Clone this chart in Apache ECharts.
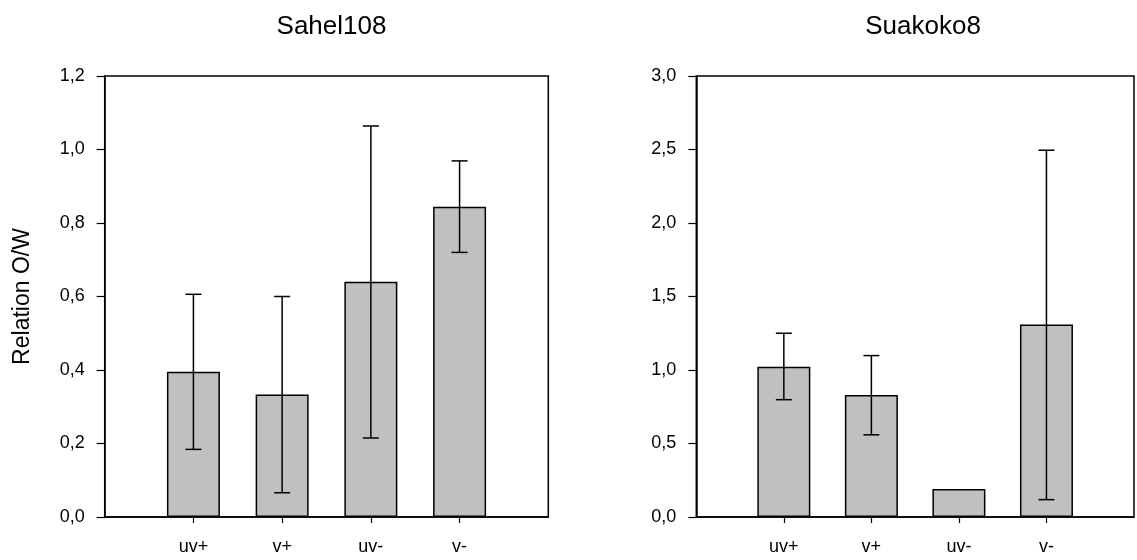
<!DOCTYPE html>
<html>
<head>
<meta charset="utf-8">
<script src="https://cdn.jsdelivr.net/npm/echarts@6/dist/echarts.min.js"></script>
<style>
html,body{margin:0;padding:0;background:#fff;}
#chart{width:1137px;height:560px;}
</style>
</head>
<body>
<div id="chart"></div>
<script>
// ---- data ----
const categories = ['uv+', 'v+', 'uv-', 'v-'];
const titles = ['Sahel108', 'Suakoko8'];
const yAxisName = 'Relation O/W';

const sahelMeans = [0.395, 0.333, 0.640, 0.844];
const sahelLow   = [0.184, 0.066, 0.215, 0.720];
const sahelHigh  = [0.606, 0.600, 1.064, 0.969];

const suakokoMeans = [1.022, 0.830, 0.191, 1.309];
const suakokoLow   = [0.798, 0.559, null, 0.118];
const suakokoHigh  = [1.250, 1.098, null, 2.495];

const sahelTicks = { min: 0, max: 1.2, interval: 0.2 };
const suakokoTicks = { min: 0, max: 3.0, interval: 0.5 };

// ---- build ----
const FONT = 'Liberation Sans, Arial, sans-serif';
const axisCats = [''].concat(categories, ['']);
const fmt = v => v.toFixed(1).replace('.', ',');

const grids = [
  { left: 104.7, top: 76, width: 443.6, height: 441 },
  { left: 696.3, top: 76, width: 446, height: 441 }
];

function xAxisFor(i) {
  return {
    type: 'category', gridIndex: i, data: axisCats, boundaryGap: false,
    axisLine: { lineStyle: { color: '#000', width: 1.5 } },
    axisTick: { show: true, length: 6, lineStyle: { color: '#000', width: 1.2 },
      interval: (idx) => idx > 0 && idx < axisCats.length - 1 },
    axisLabel: { color: '#000', fontSize: 18, fontFamily: FONT, margin: 21,
      interval: 0 },
    splitLine: { show: false }
  };
}
function yAxisFor(i, t) {
  const ax = {
    type: 'value', gridIndex: i, min: t.min, max: t.max, interval: t.interval,
    axisLine: { show: true, lineStyle: { color: '#000', width: 1.5 } },
    axisTick: { show: true, length: 8, lineStyle: { color: '#000', width: 1.2 } },
    axisLabel: { color: '#000', fontSize: 18, fontFamily: FONT, margin: 20, formatter: fmt },
    splitLine: { show: false }
  };
  if (i === 0) {
    ax.name = yAxisName;
    ax.nameLocation = 'middle';
    ax.nameGap = 71;
    ax.nameTextStyle = { color: '#000', fontSize: 23, fontFamily: FONT };
  }
  return ax;
}

function barSeries(i, means) {
  return {
    type: 'bar', xAxisIndex: i, yAxisIndex: i,
    data: [null].concat(means, [null]),
    barWidth: 53,
    itemStyle: { color: '#c0c0c0', borderColor: '#000', borderWidth: 1.5 },
    silent: true, z: 2
  };
}
function errSeries(i, low, high) {
  const d = [];
  low.forEach((l, k) => { if (l !== null && high[k] !== null) d.push([k + 1, l, high[k]]); });
  return {
    type: 'custom', xAxisIndex: i, yAxisIndex: i, z: 5, silent: true,
    data: d,
    renderItem: function (params, api) {
      const x = api.value(0);
      const lo = api.coord([x, api.value(1)]);
      const hi = api.coord([x, api.value(2)]);
      const hw = 8;
      const st = { stroke: '#000', lineWidth: 1.5 };
      return { type: 'group', children: [
        { type: 'line', shape: { x1: lo[0], y1: lo[1], x2: hi[0], y2: hi[1] }, style: st },
        { type: 'line', shape: { x1: hi[0] - hw, y1: hi[1], x2: hi[0] + hw, y2: hi[1] }, style: st },
        { type: 'line', shape: { x1: lo[0] - hw, y1: lo[1], x2: lo[0] + hw, y2: lo[1] }, style: st }
      ]};
    }
  };
}

const chart = echarts.init(document.getElementById('chart'), null, { renderer: 'canvas' });
chart.setOption({
  animation: false,
  backgroundColor: '#fff',
  title: titles.map((t, i) => ({
    text: t, left: grids[i].left + (i === 0 ? grids[i].width : 443.6) / 2, top: 9, textAlign: 'center',
    textStyle: { color: '#000', fontSize: 26, fontWeight: 'normal', fontFamily: FONT }
  })),
  grid: grids.map(g => Object.assign({ show: true, borderColor: '#000', borderWidth: 1.5, backgroundColor: 'transparent' }, g)),
  xAxis: [xAxisFor(0), xAxisFor(1)],
  yAxis: [yAxisFor(0, sahelTicks), yAxisFor(1, suakokoTicks)],
  series: [
    barSeries(0, sahelMeans), errSeries(0, sahelLow, sahelHigh),
    barSeries(1, suakokoMeans), errSeries(1, suakokoLow, suakokoHigh)
  ]
});
</script>
</body>
</html>
